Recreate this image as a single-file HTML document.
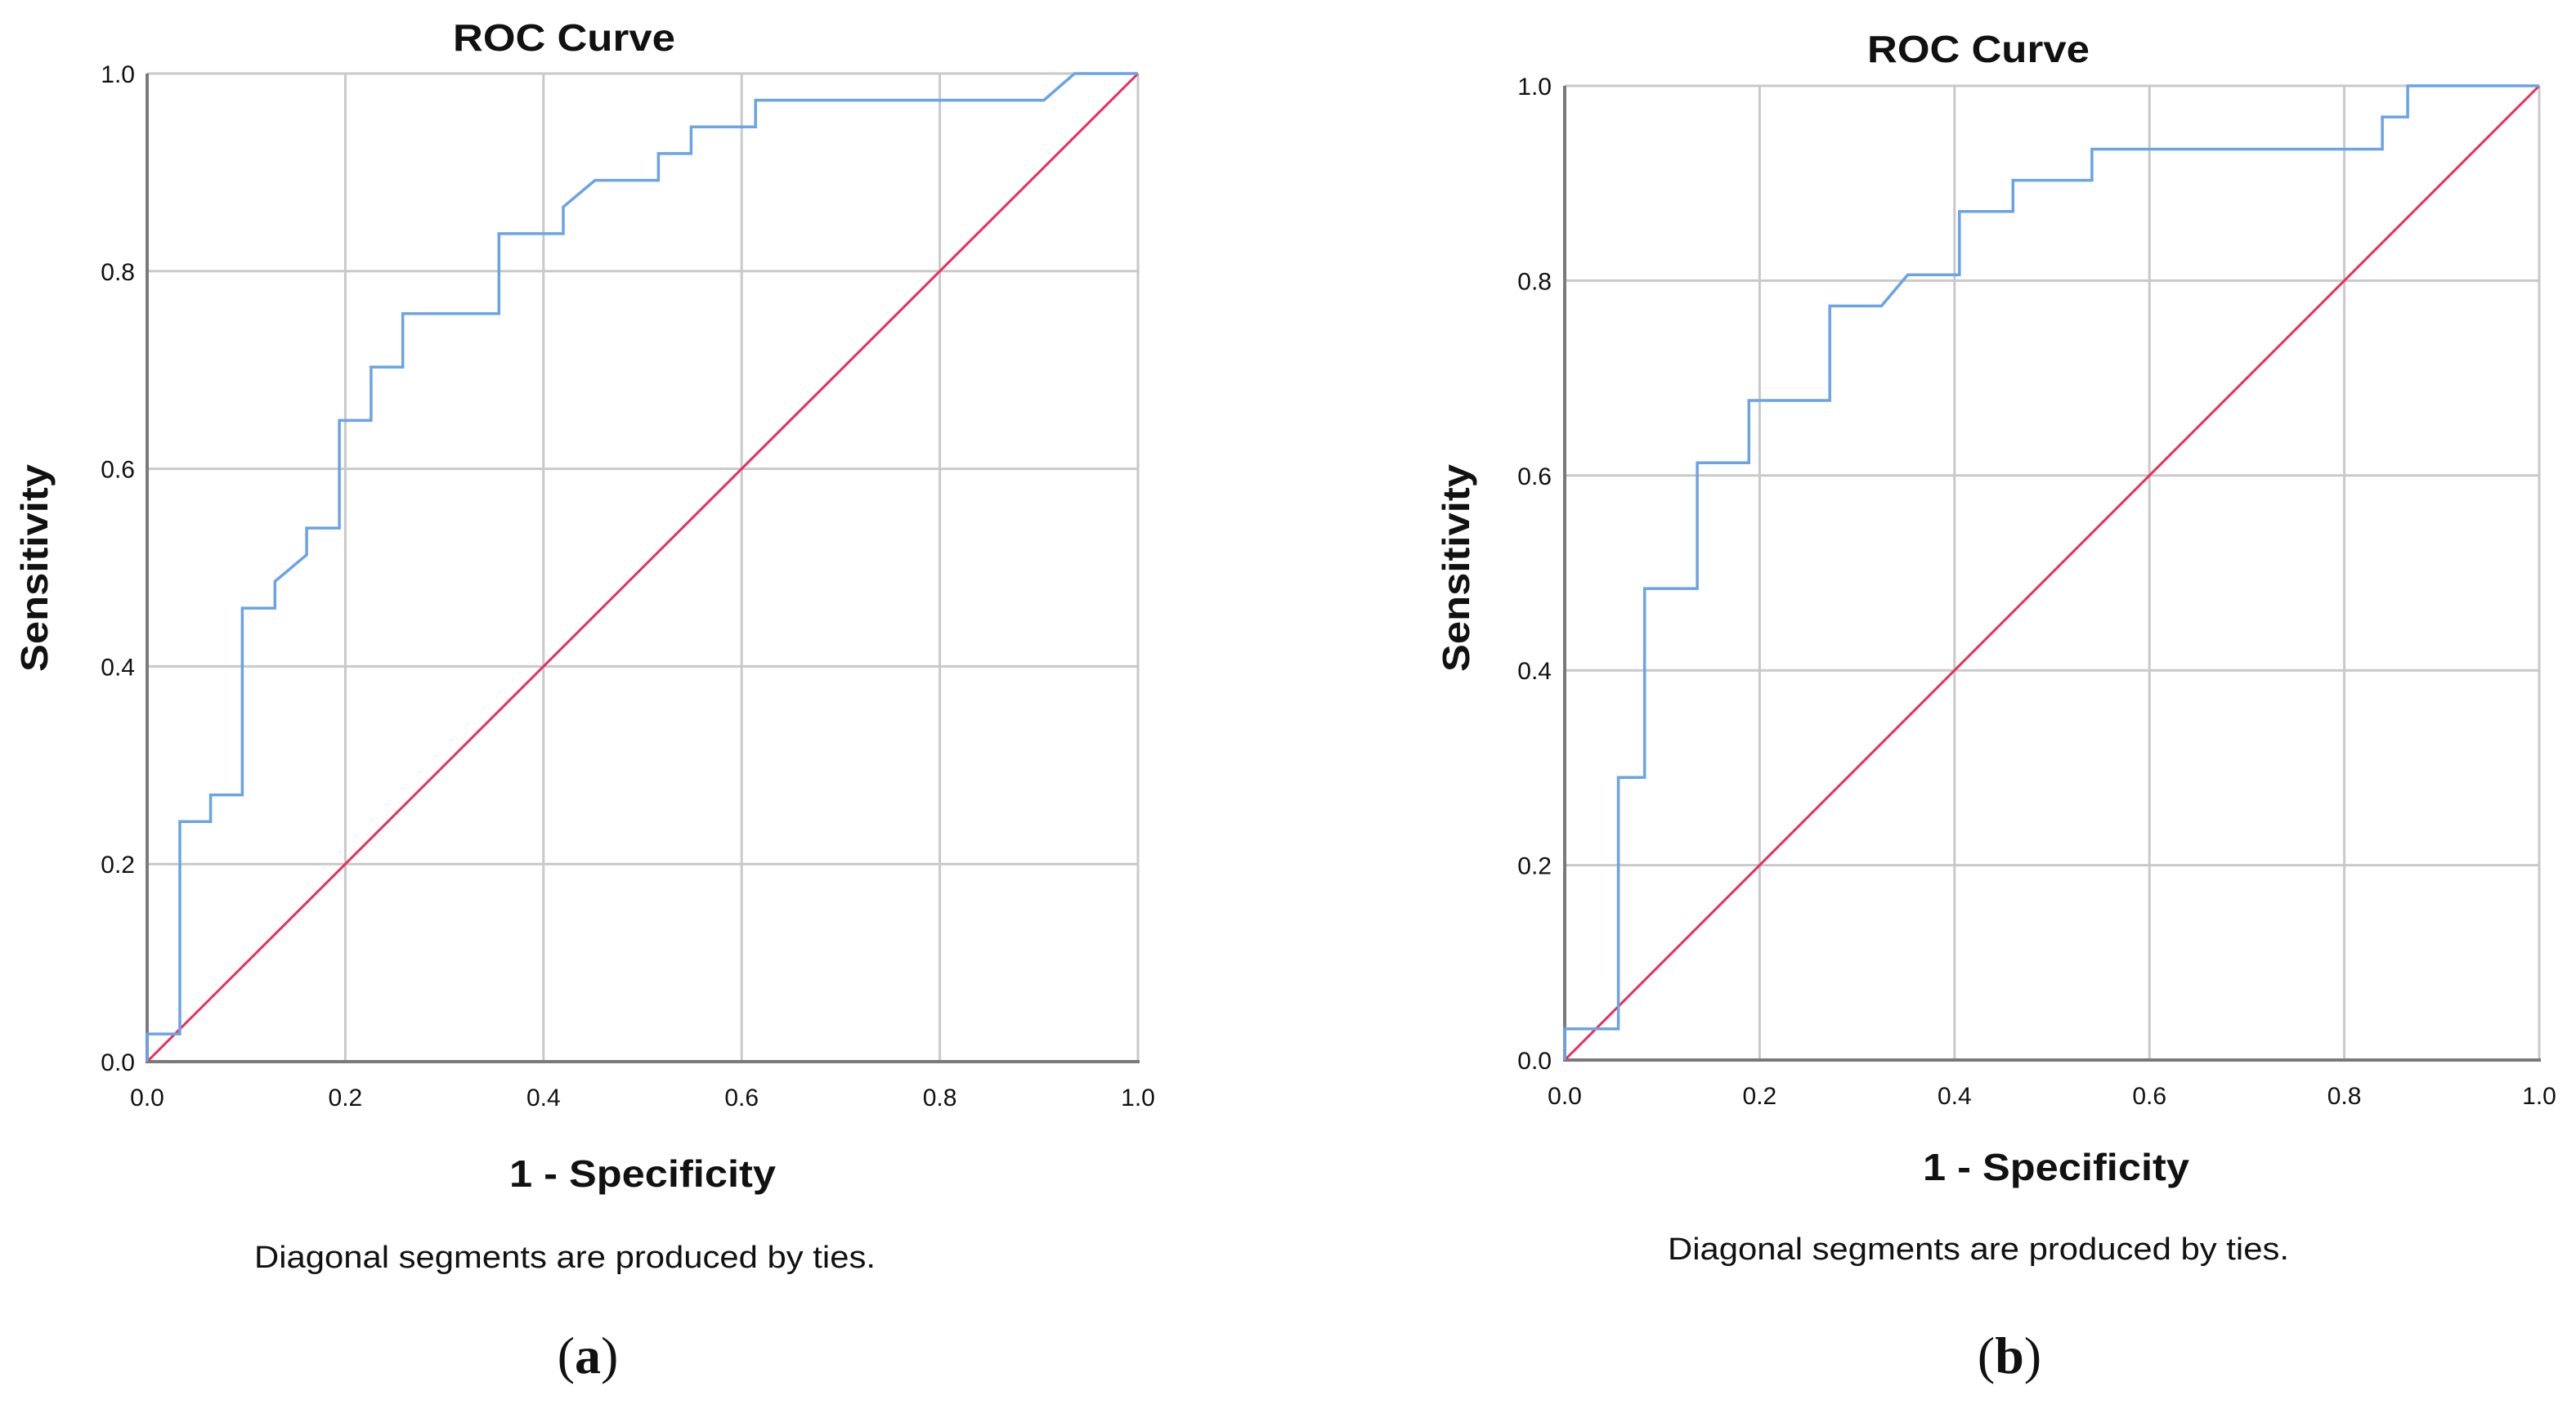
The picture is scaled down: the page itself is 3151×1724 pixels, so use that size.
<!DOCTYPE html>
<html><head><meta charset="utf-8"><style>
html,body{margin:0;padding:0;background:#fff;}
svg{display:block;}
text{font-family:"Liberation Sans",sans-serif;fill:#111;}
</style></head><body>
<svg id="fig" width="3151" height="1724" viewBox="0 0 3151 1724" xmlns="http://www.w3.org/2000/svg">
<rect width="3151" height="1724" fill="#fff"/>
</svg>
<script>
// Panel (a) data
const ticks = [0, 0.2, 0.4, 0.6, 0.8, 1.0];
const tickLabels = ["0.0", "0.2", "0.4", "0.6", "0.8", "1.0"];
const rocAFpr  = [0, 0, 0.033, 0.033, 0.064, 0.064, 0.096, 0.096, 0.129, 0.129, 0.161, 0.161, 0.194, 0.194, 0.226, 0.226, 0.258, 0.258, 0.355, 0.355, 0.42, 0.42, 0.452, 0.516, 0.516, 0.549, 0.549, 0.614, 0.614, 0.905, 0.936, 1.0];
const rocATpr  = [0, 0.028, 0.028, 0.243, 0.243, 0.27, 0.27, 0.459, 0.459, 0.486, 0.513, 0.54, 0.54, 0.649, 0.649, 0.703, 0.703, 0.757, 0.757, 0.838, 0.838, 0.865, 0.892, 0.892, 0.919, 0.919, 0.946, 0.946, 0.973, 0.973, 1.0, 1.0];
// Panel (b) data
const rocBFpr  = [0, 0, 0.055, 0.055, 0.082, 0.082, 0.136, 0.136, 0.189, 0.189, 0.272, 0.272, 0.325, 0.352, 0.405, 0.405, 0.46, 0.46, 0.541, 0.541, 0.839, 0.839, 0.865, 0.865, 1.0];
const rocBTpr  = [0, 0.032, 0.032, 0.29, 0.29, 0.484, 0.484, 0.613, 0.613, 0.677, 0.677, 0.774, 0.774, 0.806, 0.806, 0.871, 0.871, 0.903, 0.903, 0.935, 0.935, 0.968, 0.968, 1.0, 1.0];
const refLine = [0, 1];

const NS = "http://www.w3.org/2000/svg";
const svg = document.getElementById("fig");
function mk(tag, attrs, parent){ const e=document.createElementNS(NS,tag); for(const k in attrs) e.setAttribute(k,attrs[k]); (parent||svg).appendChild(e); return e; }

function panel(cfg){
  const g = mk("g",{});
  
  
  const sx = v => cfg.x0 + v*(cfg.x1-cfg.x0);
  const sy = v => cfg.y0 - v*(cfg.y0-cfg.y1);
  ticks.forEach((t,i)=>{
    const gv = mk("line",{x1:sx(t),x2:sx(t),y1:sy(0),y2:sy(1),stroke:"#c9c9c9","stroke-width":3},g);
    
    
    const gh = mk("line",{x1:sx(0),x2:sx(1),y1:sy(t),y2:sy(t),stroke:"#c9c9c9","stroke-width":3},g);
    
    
    const xl = mk("text",{x:sx(t),y:cfg.xTickY,"font-size":30,"text-anchor":"middle"},g);
    xl.textContent = tickLabels[i];
    
    
    const yl = mk("text",{x:cfg.yTickX,y:sy(t)+11,"font-size":30,"text-anchor":"end"},g);
    yl.textContent = tickLabels[i];
    
    
  });
  const ax = mk("line",{x1:sx(0)-2,x2:sx(1)+2,y1:sy(0),y2:sy(0),stroke:"#7a7a7a","stroke-width":4},g);
  
  
  const ay = mk("line",{x1:sx(0),x2:sx(0),y1:sy(0),y2:sy(1),stroke:"#7a7a7a","stroke-width":4},g);
  
  
  const ref = mk("line",{x1:sx(refLine[0]),y1:sy(refLine[0]),x2:sx(refLine[1]),y2:sy(refLine[1]),stroke:"#e5305a","stroke-width":3},g);
  
  
  const pts = cfg.fpr.map((f,i)=>sx(f).toFixed(1)+","+sy(cfg.tpr[i]).toFixed(1)).join(" ");
  const roc = mk("polyline",{points:pts,fill:"none",stroke:"#6aa3e6","stroke-width":3.5},g);
  
  
  const t = mk("text",{x:cfg.titleX,y:cfg.titleY,"font-size":46,"font-weight":"bold","text-anchor":"middle",textLength:272,lengthAdjust:"spacingAndGlyphs"},g);
  t.textContent = "ROC Curve";
  
  
  const xt = mk("text",{x:cfg.xtX,y:cfg.xtY,"font-size":46,"font-weight":"bold","text-anchor":"middle",textLength:326,lengthAdjust:"spacingAndGlyphs"},g);
  xt.textContent = "1 - Specificity";
  
  
  const yt = mk("text",{x:0,y:0,"font-size":46,"font-weight":"bold","text-anchor":"middle",textLength:254,lengthAdjust:"spacingAndGlyphs",transform:`translate(${cfg.ytX},${cfg.ytY}) rotate(-90)`},g);
  yt.textContent = "Sensitivity";
  
  
  const n = mk("text",{x:cfg.noteX,y:cfg.noteY,"font-size":38,"text-anchor":"middle",textLength:760,lengthAdjust:"spacingAndGlyphs"},g);
  n.textContent = "Diagonal segments are produced by ties.";
  
  
  const c = mk("text",{x:cfg.capX,y:cfg.capY,"font-size":64,"text-anchor":"middle",style:"font-family:'Liberation Serif',serif"},g);
  c.innerHTML = '(<tspan font-weight="bold">'+cfg.cap+'</tspan>)';
  
  
}

panel({name:"panel-a", x0:180, x1:1392, y0:1299, y1:90, fpr:rocAFpr, tpr:rocATpr,
  xTickY:1353, yTickX:165, titleX:690, titleY:62, xtX:786, xtY:1452, ytX:58, ytY:695,
  noteX:691, noteY:1551, capX:719, capY:1680, cap:"a"});
panel({name:"panel-b", x0:1914, x1:3106, y0:1297, y1:105, fpr:rocBFpr, tpr:rocBTpr,
  xTickY:1351, yTickX:1898, titleX:2420, titleY:76, xtX:2515, xtY:1444, ytX:1797, ytY:695,
  noteX:2420, noteY:1541, capX:2458, capY:1680, cap:"b"});
</script>
</body></html>
